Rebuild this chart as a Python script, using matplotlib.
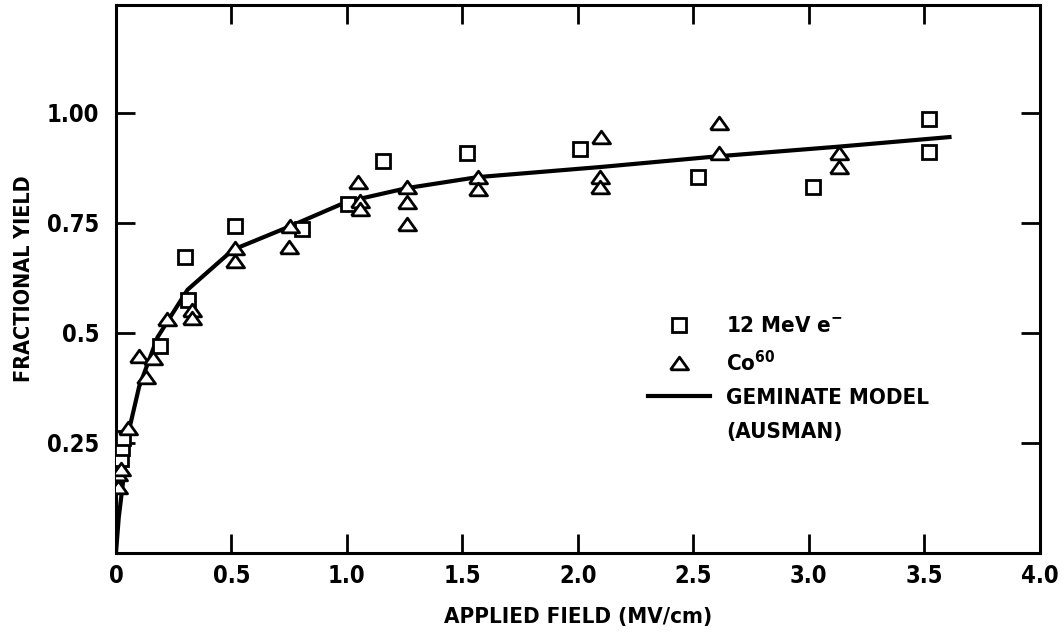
import matplotlib.pyplot as plt
from matplotlib.lines import Line2D

# condensed bold face for all text
plt.rcParams['font.family'] = ['DejaVu Sans']
plt.rcParams['font.stretch'] = 'condensed'
plt.rcParams['font.weight'] = 'bold'
plt.rcParams['axes.labelweight'] = 'bold'
plt.rcParams['mathtext.fontset'] = 'custom'
plt.rcParams['mathtext.rm'] = 'DejaVu Sans:bold:stretch=condensed'
plt.rcParams['mathtext.bf'] = 'DejaVu Sans:bold:stretch=condensed'

# 12 MeV electron data
electron_field = [0.02, 0.025, 0.03, 0.19, 0.30, 0.31, 0.515, 0.805, 1.005,
                  1.156, 1.52, 2.01, 2.52, 3.02, 3.52, 3.52]
electron_yield = [0.213, 0.238, 0.261, 0.47, 0.673, 0.575, 0.743, 0.737, 0.793,
                  0.891, 0.909, 0.918, 0.855, 0.832, 0.986, 0.911]

# Co-60 gamma data
cobalt_field = [0.01, 0.01, 0.02, 0.05, 0.10, 0.13, 0.16, 0.22, 0.33, 0.33,
                0.515, 0.515, 0.753, 0.75, 1.048, 1.056, 1.056, 1.26, 1.26, 1.26,
                1.57, 1.57, 2.10, 2.095, 2.095, 2.61, 2.61, 3.13, 3.13]
cobalt_yield = [0.15, 0.18, 0.19, 0.284, 0.448, 0.40, 0.443, 0.532, 0.552, 0.534,
                0.693, 0.664, 0.743, 0.695, 0.843, 0.80, 0.782, 0.832, 0.798, 0.748,
                0.855, 0.827, 0.946, 0.855, 0.832, 0.977, 0.909, 0.909, 0.877]

# geminate recombination model (Ausman)
model_field = [0.0, 0.012, 0.035, 0.057, 0.10, 0.18, 0.31, 0.507, 0.753, 1.0,
               1.26, 1.567, 2.1, 2.6, 3.125, 3.61]
model_yield = [0.0, 0.08, 0.18, 0.28, 0.377, 0.49, 0.598, 0.689, 0.742, 0.798,
               0.829, 0.854, 0.877, 0.901, 0.923, 0.945]

x_ticks = [0, 0.5, 1.0, 1.5, 2.0, 2.5, 3.0, 3.5, 4.0]
x_labels = ['0', '0.5', '1.0', '1.5', '2.0', '2.5', '3.0', '3.5', '4.0']
y_ticks = [0.25, 0.5, 0.75, 1.0]
y_labels = ['0.25', '0.5', '0.75', '1.00']

tri = [(-1, -0.7), (1, -0.7), (0, 0.7), (-1, -0.7)]

fig = plt.figure(figsize=(10.64, 6.34), dpi=100)
ax = fig.add_axes([0.109, 0.128, 0.868, 0.864])

ax.plot(model_field, model_yield, color='black', lw=3.0, zorder=2)
ax.plot(electron_field, electron_yield, ls='none', marker='s', ms=10.5,
        mfc='white', mec='black', mew=2.0, zorder=3)
ax.plot(cobalt_field, cobalt_yield, ls='none', marker=tri, ms=13,
        mfc='white', mec='black', mew=2.0, zorder=3)

ax.set_xlim(0, 4.0)
ax.set_ylim(0, 1.245)
ax.set_xticks(x_ticks)
ax.set_xticklabels(x_labels)
ax.set_yticks(y_ticks)
ax.set_yticklabels(y_labels)

for s in ax.spines.values():
    s.set_linewidth(2.2)
ax.tick_params(axis='both', which='major', direction='in', length=14, width=2.0,
               top=True, right=True, labelsize=17)
ax.tick_params(axis='x', pad=8)
ax.tick_params(axis='y', pad=12)

ax.set_xlabel('APPLIED FIELD (MV/cm)', fontsize=16, labelpad=14)
ax.set_ylabel('FRACTIONAL YIELD', fontsize=15.5, labelpad=9)

handles = [
    Line2D([], [], ls='none', marker='s', ms=10.5, mfc='white', mec='black', mew=2.0),
    Line2D([], [], ls='none', marker=tri, ms=13, mfc='white', mec='black', mew=2.0),
    Line2D([], [], color='black', lw=3.0),
    Line2D([], [], ls='none'),
]
labels = ['12 MeV e$^{\u2212}$', 'Co$^{60}$', 'GEMINATE MODEL', '(AUSMAN)']
ax.legend(handles, labels, loc='upper left', bbox_to_anchor=(0.5645, 0.452),
          frameon=False, fontsize=16, handlelength=2.75, handletextpad=0.75,
          labelspacing=0.6, borderpad=0)

fig.savefig('out.png', dpi=100)
